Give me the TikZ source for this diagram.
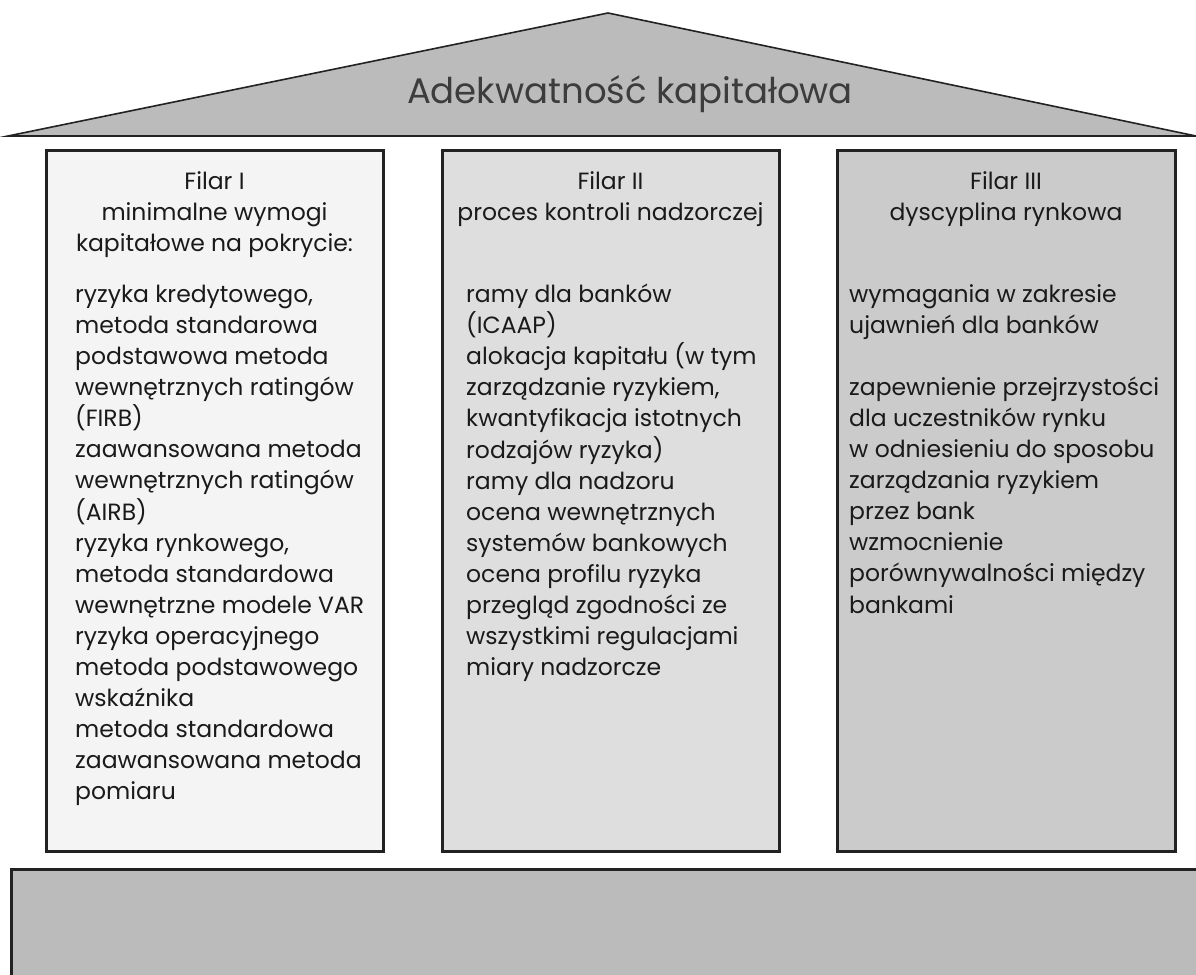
\documentclass[tikz,border=0pt]{standalone}
\usepackage{fontspec}
\setmainfont{Poppins}
\definecolor{roofgray}{HTML}{BBBBBB}
\definecolor{pillarA}{HTML}{F4F4F4}
\definecolor{pillarB}{HTML}{DEDEDE}
\definecolor{pillarC}{HTML}{CBCBCB}
\definecolor{edge}{HTML}{222222}
\definecolor{ink}{HTML}{1A1A1A}
\definecolor{titleink}{HTML}{3C3C3C}
\newcommand{\txtsize}{\fontsize{23.5}{31.1}\selectfont}
\begin{document}
\begin{tikzpicture}[x=1pt,y=-1pt,
  roof/.style={fill=roofgray, draw=edge, line width=1.6pt, line join=miter},
  pillar/.style={draw=edge, line width=3pt},
  foundation/.style={fill=roofgray, draw=edge, line width=3pt},
  headtxt/.style={anchor=base, inner sep=0pt, text=ink, font=\txtsize},
  bodytxt/.style={anchor=base west, inner sep=0pt, text=ink, font=\txtsize},
  titletxt/.style={anchor=base, inner sep=0pt, text=titleink, font=\fontsize{35.5}{42}\selectfont}]
\useasboundingbox (0,0) rectangle (1196,974);

% roof
\draw[roof] (8,136) -- (608,13) -- (1196,136) -- cycle;
\node[titletxt] (title) at (630,103) {Adekwatność kapitałowa};

% pillars
\draw[pillar, fill=pillarA] (46,150) rectangle (383,851);
\draw[pillar, fill=pillarB] (442,150) rectangle (779,851);
\draw[pillar, fill=pillarC] (837,150) rectangle (1175,851);

% foundation (runs off the right and bottom edges)
\draw[foundation] (11,869) rectangle (1210,990);

% pillar I
\node[headtxt] (h1) at (214.5,189) {\begin{tabular}[t]{@{}c@{}}Filar I\\minimalne wymogi\\kapitałowe na pokrycie:\end{tabular}};
\node[bodytxt] (b1) at (75,302) {\begin{tabular}[t]{@{}l@{}}
ryzyka kredytowego,\\
metoda standarowa\\
podstawowa metoda\\
wewnętrznych ratingów\\
(FIRB)\\
zaawansowana metoda\\
wewnętrznych ratingów\\
(AIRB)\\
ryzyka rynkowego,\\
metoda standardowa\\
wewnętrzne modele VAR\\
ryzyka operacyjnego\\
metoda podstawowego\\
wskaźnika\\
metoda standardowa\\
zaawansowana metoda\\
pomiaru\end{tabular}};

% pillar II
\node[headtxt] (h2) at (610.5,189) {\begin{tabular}[t]{@{}c@{}}Filar II\\proces kontroli nadzorczej\end{tabular}};
\node[bodytxt] (b2) at (466,302) {\begin{tabular}[t]{@{}l@{}}
ramy dla banków\\
(ICAAP)\\
alokacja kapitału (w tym\\
zarządzanie ryzykiem,\\
kwantyfikacja istotnych\\
rodzajów ryzyka)\\
ramy dla nadzoru\\
ocena wewnętrznych\\
systemów bankowych\\
ocena profilu ryzyka\\
przegląd zgodności ze\\
wszystkimi regulacjami\\
miary nadzorcze\end{tabular}};

% pillar III
\node[headtxt] (h3) at (1006,189) {\begin{tabular}[t]{@{}c@{}}Filar III\\dyscyplina rynkowa\end{tabular}};
\node[bodytxt] (b3) at (849,302) {\begin{tabular}[t]{@{}l@{}}
wymagania w zakresie\\
ujawnień dla banków\\
\\
zapewnienie przejrzystości\\
dla uczestników rynku\\
w odniesieniu do sposobu\\
zarządzania ryzykiem\\
przez bank\\
wzmocnienie\\
porównywalności między\\
bankami\end{tabular}};
\end{tikzpicture}
\end{document}
